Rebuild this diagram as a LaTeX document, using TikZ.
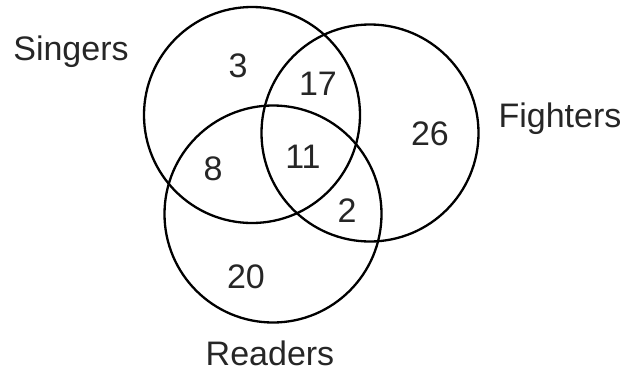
\documentclass[tikz,border=0pt]{standalone}
\usepackage{fontspec}
\setmainfont{Liberation Sans}
\begin{document}
\begin{tikzpicture}[x=1pt,y=-1pt,
  setcircle/.style={draw=black,line width=2.3pt},
  lbl/.style={inner sep=0pt,anchor=base,font=\fontsize{34}{34}\selectfont,text=black!85}]
\useasboundingbox (0,0) rectangle (630,375);
\node[setcircle,circle,minimum size=216pt,inner sep=0pt] (S) at (252,115) {};
\node[setcircle,circle,minimum size=217pt,inner sep=0pt] (F) at (370,133) {};
\node[setcircle,circle,minimum size=217pt,inner sep=0pt] (R) at (273,214) {};
\node[lbl] (ls) at (71,60) {Singers};
\node[lbl] (lf) at (560,127) {Fighters};
\node[lbl] (lr) at (270,365) {Readers};
\node[lbl] (n3) at (238,77) {3};
\node[lbl] (n17) at (318,95) {17};
\node[lbl] (n26) at (430,145) {26};
\node[lbl] (n8) at (213,180) {8};
\node[lbl] (n11) at (303,168) {11};
\node[lbl] (n2) at (347,222) {2};
\node[lbl] (n20) at (246,288) {20};
\end{tikzpicture}
\end{document}
